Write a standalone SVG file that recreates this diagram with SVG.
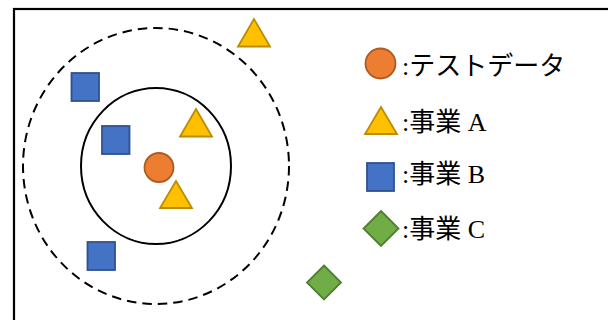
<svg xmlns="http://www.w3.org/2000/svg" width="608" height="320" viewBox="0 0 608 320">
<style>
.orange{fill:#ED7D31;stroke:#AE5A21;stroke-width:1.8}
.yellow{fill:#FFC000;stroke:#BC8C00;stroke-width:1.8}
.blue{fill:#4472C4;stroke:#2F528F;stroke-width:1.8}
.green{fill:#70AD47;stroke:#507E32;stroke-width:1.8}
.lbl{font-family:"Liberation Serif","Noto Sans CJK JP",serif;font-size:26px;fill:#000}
</style>
<rect id="frame" x="14" y="9" width="700" height="400" fill="#fff" stroke="#000" stroke-width="2.2"/>
<g id="outer-circle"><ellipse cx="156" cy="166" rx="133" ry="138" fill="none" stroke="#000" stroke-width="2" stroke-dasharray="9.5 6"/></g>
<g id="inner-circle"><ellipse cx="156" cy="166" rx="75" ry="78" fill="none" stroke="#000" stroke-width="2"/></g>
<g id="test-data"><circle class="orange" cx="159" cy="167.5" r="14.5"/></g>
<g id="a1"><polygon class="yellow" points="254,19 238,46.5 270,46.5"/></g>
<g id="a2"><polygon class="yellow" points="196,109 180,136.5 212,136.5"/></g>
<g id="a3"><polygon class="yellow" points="176,181 160,208 192,208"/></g>
<g id="b1"><rect class="blue" x="71.5" y="73" width="27.5" height="28"/></g>
<g id="b2"><rect class="blue" x="102" y="126" width="27.5" height="28"/></g>
<g id="b3"><rect class="blue" x="87.5" y="242" width="27.5" height="28"/></g>
<g id="c1"><polygon class="green" points="324,265.5 341,282.5 324,299.5 307,282.5"/></g>
<g id="legend-test">
<circle class="orange" cx="380.5" cy="63.5" r="15"/>
<text class="lbl" x="402" y="75">:テストデータ</text>
</g>
<g id="legend-a">
<polygon class="yellow" points="381,107 365,134 397,134"/>
<text class="lbl" x="402" y="131">:事業 A</text>
</g>
<g id="legend-b">
<rect class="blue" x="367" y="163" width="27" height="28"/>
<text class="lbl" x="402" y="183">:事業 B</text>
</g>
<g id="legend-c">
<polygon class="green" points="381,211 398.5,228.5 381,246 363.5,228.5"/>
<text class="lbl" x="402" y="238">:事業 C</text>
</g>
</svg>
